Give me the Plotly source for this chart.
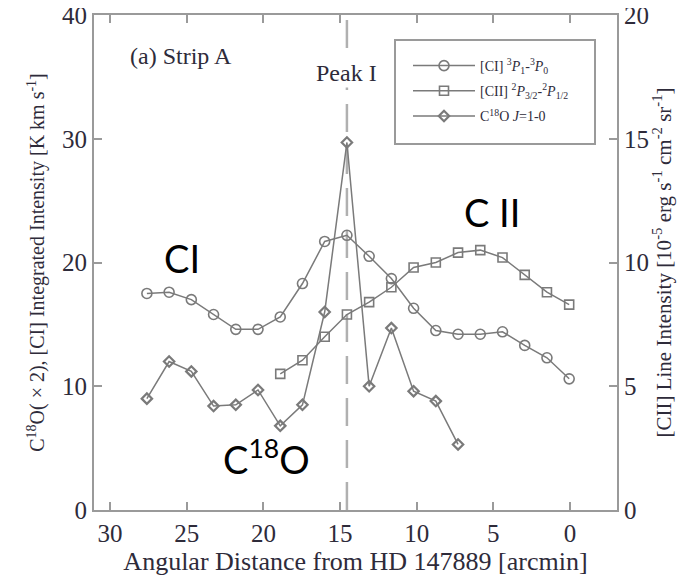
import plotly.graph_objects as go

# ---------------- data ----------------
ci_x = [27.6, 26.15, 24.7, 23.25, 21.8, 20.35, 18.9, 17.45, 16.0, 14.55,
        13.1, 11.65, 10.2, 8.75, 7.3, 5.85, 4.4, 2.95, 1.5, 0.05]
ci_y = [17.5, 17.6, 17.0, 15.8, 14.6, 14.6, 15.6, 18.3, 21.7, 22.2,
        20.5, 18.7, 16.3, 14.5, 14.2, 14.2, 14.4, 13.3, 12.3, 10.6]

cii_x = [18.9, 17.45, 16.0, 14.55, 13.1, 11.65, 10.2, 8.75, 7.3, 5.85,
         4.4, 2.95, 1.5, 0.05]
cii_y = [5.5, 6.05, 7.0, 7.9, 8.4, 9.0, 9.8, 10.0, 10.4, 10.5,
         10.2, 9.5, 8.8, 8.3]

c18o_x = [27.6, 26.15, 24.7, 23.25, 21.8, 20.35, 18.9, 17.45, 16.0, 14.55,
          13.1, 11.65, 10.2, 8.75, 7.3]
c18o_y = [9.0, 12.0, 11.2, 8.4, 8.5, 9.7, 6.8, 8.5, 16.0, 29.7,
          10.0, 14.7, 9.6, 8.8, 5.3]

peak_x = 14.55

x_ticks = [30, 25, 20, 15, 10, 5, 0]
y_ticks = [0, 10, 20, 30, 40]
y2_ticks = [0, 5, 10, 15, 20]

names = ["[CI] <sup>3</sup><i>P</i><sub>1</sub>-<sup>3</sup><i>P</i><sub>0</sub>",
         "[CII] <sup>2</sup><i>P</i><sub>3/2</sub>-<sup>2</sup><i>P</i><sub>1/2</sub>",
         "C<sup>18</sup>O <i>J</i>=1-0"]

# ---------------- styles ----------------
LINE = "#7a7a7a"
AX = "#9a9a9a"
TXT = "#2e2b3a"
SERIF = "Liberation Serif, Times New Roman, serif"

# page body has an 8px margin -> figure is slightly smaller than the window
W, H = 679, 568
ML, MR, MT, MB = 86, 70, 7, 66
PW, PH = W - ML - MR, H - MT - MB

fig = go.Figure()

fig.add_trace(go.Scatter(
    x=ci_x, y=ci_y, name=names[0], mode="lines+markers", legendgroup="a",
    line=dict(color=LINE, width=1.5),
    marker=dict(symbol="circle-open", size=10, color=LINE, line=dict(width=1.6)),
))
fig.add_trace(go.Scatter(
    x=cii_x, y=cii_y, name=names[1], mode="lines+markers", yaxis="y2", legendgroup="b",
    line=dict(color=LINE, width=1.5),
    marker=dict(symbol="square-open", size=9, color=LINE, line=dict(width=1.6)),
))
fig.add_trace(go.Scatter(
    x=c18o_x, y=c18o_y, name=names[2], mode="lines+markers", legendgroup="c",
    line=dict(color=LINE, width=1.5),
    marker=dict(symbol="diamond-open", size=8, color=LINE, line=dict(width=2.2)),
))

axis_common = dict(
    showline=True, linecolor=AX, linewidth=2,
    ticks="inside", ticklen=8, tickwidth=2, tickcolor=AX,
    showgrid=False, zeroline=False, automargin=False,
    ticklabeloverflow="allow",
    tickfont=dict(family=SERIF, size=25, color=TXT),
)

fig.update_layout(
    width=W, height=H,
    margin=dict(l=ML, r=MR, t=MT, b=MB, autoexpand=False),
    paper_bgcolor="white", plot_bgcolor="white",
    showlegend=True,
    legend=dict(
        x=(400 - ML) / PW, y=(PH + MT - 42) / PH, xanchor="left", yanchor="top",
        bgcolor="rgba(0,0,0,0)", borderwidth=0,
        font=dict(family=SERIF, size=14, color=TXT),
        itemwidth=62, tracegroupgap=4, traceorder="grouped",
    ),
    xaxis=dict(
        range=[31.05, -3.07], tickvals=x_ticks, mirror="ticks",
        title=dict(text="Angular Distance from HD 147889 [arcmin]",
                   font=dict(family=SERIF, size=26, color=TXT), standoff=2),
        **axis_common,
    ),
    yaxis=dict(
        range=[0, 40], tickvals=y_ticks,
        title=dict(text="C<sup>18</sup>O( \u00d7 2), [CI] Integrated Intensity [K km s<sup>-1</sup>]",
                   font=dict(family=SERIF, size=20, color=TXT), standoff=12),
        **axis_common,
    ),
    yaxis2=dict(
        range=[0, 20], tickvals=y2_ticks, overlaying="y", side="right",
        title=dict(text="[CII] Line Intensity [10<sup>-5</sup> erg s<sup>-1</sup> cm<sup>-2</sup> sr<sup>-1</sup>]",
                   font=dict(family=SERIF, size=21, color=TXT), standoff=8),
        **axis_common,
    ),
)

# legend frame (window px 395..595 x 40..144 -> figure px minus 8)
fig.add_shape(type="rect", xref="paper", yref="paper",
              x0=(387 - ML) / PW, x1=(587 - ML) / PW,
              y0=(H - MB - 136) / PH, y1=(H - MB - 32) / PH,
              line=dict(color=AX, width=2), fillcolor="rgba(0,0,0,0)", layer="above")

# Peak I dashed line
fig.add_shape(type="line", xref="x", yref="paper", x0=peak_x, x1=peak_x, y0=0, y1=0.99,
              line=dict(color="#b0b0b0", width=2.5, dash="28px,14px"), layer="below")

fig.add_annotation(x=peak_x, y=35.3, xref="x", yref="y", text="Peak I", showarrow=False,
                   bgcolor="white", font=dict(family=SERIF, size=24, color=TXT))
fig.add_annotation(x=25.4, y=36.7, xref="x", yref="y", text="(a) Strip A", showarrow=False,
                   font=dict(family=SERIF, size=24, color=TXT))

BIG = dict(family="Lato, Carlito, Open Sans, sans-serif", size=38, color="black")
fig.add_annotation(x=25.3, y=20.4, xref="x", yref="y", text="CI", showarrow=False, font=BIG)
fig.add_annotation(x=5.1, y=24.1, xref="x", yref="y", text="C II", showarrow=False, font=BIG)
fig.add_annotation(x=19.8, y=4.3, xref="x", yref="y", text="C<sup>18</sup>O", showarrow=False, font=BIG)

fig.write_html("out.html")
